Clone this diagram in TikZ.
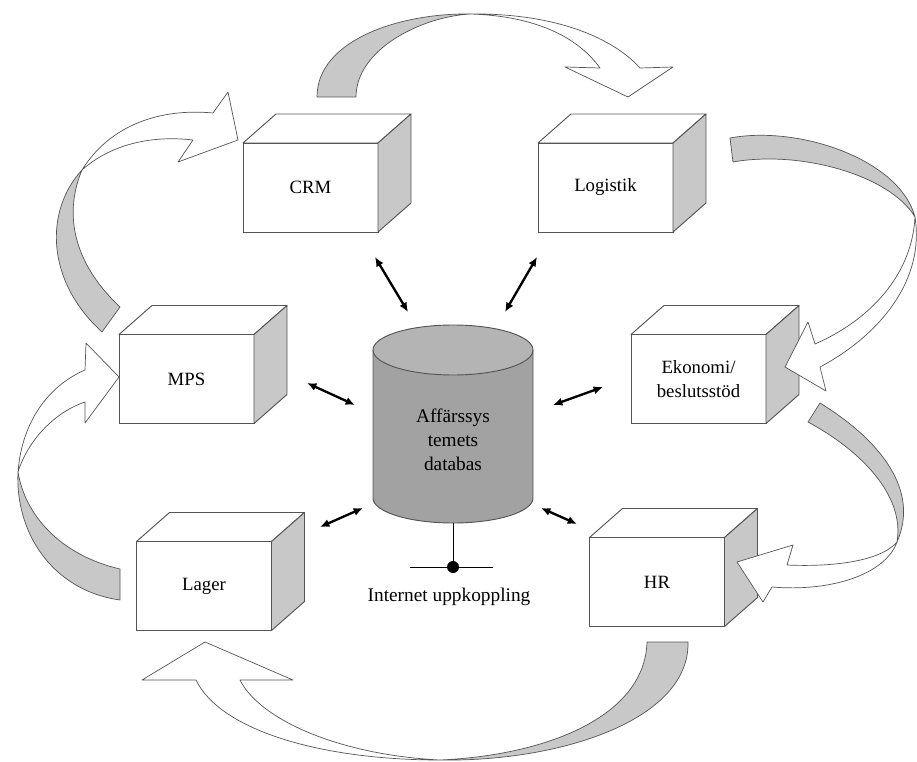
\documentclass[tikz,border=0pt]{standalone}
\usepackage{fontspec}
\setmainfont{Liberation Serif}
\usetikzlibrary{arrows.meta}

\definecolor{sidegray}{RGB}{200,200,200}
\definecolor{dbbody}{RGB}{162,162,162}
\definecolor{dbtop}{RGB}{180,180,180}
\definecolor{edgegray}{RGB}{85,85,85}

\begin{document}
\begin{tikzpicture}[
        x=0.03cm, y=-0.03cm,
        cube/.style={draw=edgegray, line width=0.8pt, fill=white, minimum width=4.05cm, minimum height=2.67cm,
            inner sep=0pt, outer sep=0pt, align=center, font=\fontsize{16}{21}\selectfont},
        face/.style={draw=edgegray, line width=0.8pt, line join=round},
        link/.style={{Latex[length=8pt,width=7pt]}-{Latex[length=8pt,width=7pt]}, line width=2pt},
        band/.style={draw=edgegray, line width=0.6pt, line join=round},
        label/.style={font=\fontsize{16.5}{20.5}\selectfont, align=center}
      ]

      \fill[white] (0,0) rectangle (917,762);
      \useasboundingbox (0,0) rectangle (917,762);

      % modules
      \node[cube] (crm) at (310.5,187.5) {CRM};
      \node[cube] (logistik) at (605.5,187.5) {Logistik};
      \node[cube] (mps) at (186.5,379) {MPS};
      \node[cube] (ekonomi) at (698.5,379) {Ekonomi/\\beslutsstöd};
      \node[cube] (lager) at (204,586) {Lager};
      \node[cube] (hr) at (657,582) {HR};

      \foreach \b in {crm,logistik,mps,ekonomi,lager,hr} {
        \draw[face, fill=white] (\b.north west) -- ++(33,-29) -- ([shift={(33,-29)}]\b.north east) -- (\b.north east) -- cycle;
        \draw[face, fill=sidegray] (\b.north east) -- ++(33,-29) -- ([shift={(33,-29)}]\b.south east) -- (\b.south east) -- cycle;
      }

      % database
      \fill[dbbody] (373,350) -- (373,498) arc[start angle=180, end angle=360, x radius=2.4cm, y radius=0.75cm] -- (533,350) -- cycle;
      \draw[face] (373,350) -- (373,498) arc[start angle=180, end angle=360, x radius=2.4cm, y radius=0.75cm] -- (533,350);
      \draw[face, fill=dbtop] (453,350) ellipse[x radius=2.4cm, y radius=0.75cm];
      \node[minimum width=4.8cm, minimum height=5.94cm, inner sep=0pt, outer sep=0pt] (db) at (453,424) {};
      \node[label] (dbtext) at (453,440) {Affärssys\\temets\\databas};

      % internet connection
      \coordinate (hub) at (453,567);
      \draw[line width=0.8pt] (db.south) -- (hub);
      \draw[line width=0.8pt] ([xshift=-1.29cm]hub) -- ([xshift=1.2cm]hub);
      \fill (hub) circle[radius=0.18cm];
      \node[label] (net) at (449,597) {Internet uppkoppling};

      % links to the database
      \coordinate (crm-end) at (375,257);      \coordinate (db-crm) at (408,312);
      \coordinate (logistik-end) at (537,257); \coordinate (db-logistik) at (505,312);
      \coordinate (mps-end) at (307,383);      \coordinate (db-mps) at (355,405);
      \coordinate (ekonomi-end) at (603,387);  \coordinate (db-ekonomi) at (553,405);
      \coordinate (lager-end) at (320,527);    \coordinate (db-lager) at (363,508);
      \coordinate (hr-end) at (577,524);       \coordinate (db-hr) at (541,508);
      \foreach \b in {crm,logistik,mps,ekonomi,lager,hr}
        \draw[link] (\b-end) -- (db-\b);

      % flow arrows, CRM -> Logistik
      \draw[band, fill=sidegray] (317,97) .. controls (317,40) and (400,13) .. (470,14)
        .. controls (420,17) and (356,50) .. (356,97) -- cycle;
      \draw[band, fill=white] (470,14) .. controls (550,13) and (610,35) .. (640,68) -- (673,67) -- (628,97)
        -- (565,67) -- (600,68) .. controls (580,40) and (540,16) .. (470,14) -- cycle;

      % Logistik -> Ekonomi
      \draw[band, fill=sidegray] (730,138) .. controls (800,125) and (900,160) .. (915,217)
        .. controls (890,175) and (800,150) .. (733,162) -- cycle;
      \draw[band, fill=white] (915,217) .. controls (925,280) and (880,335) .. (820,367) -- (826,391) -- (785,367)
        -- (808,322) -- (815,344) .. controls (870,320) and (912,275) .. (915,217) -- cycle;

      % Ekonomi -> HR
      \draw[band, fill=sidegray] (820,403) .. controls (880,440) and (920,490) .. (897,542)
        .. controls (905,495) and (860,450) .. (808,422) -- cycle;
      \draw[band, fill=white] (897,542) .. controls (885,575) and (830,592) .. (772,587) -- (763,602) -- (737,562)
        -- (793,545) -- (787,565) .. controls (830,567) and (880,562) .. (897,542) -- cycle;

      % HR -> Lager
      \draw[band, fill=sidegray] (688,642) .. controls (690,720) and (560,762) .. (440,760)
        .. controls (550,755) and (645,715) .. (647,642) -- cycle;
      \draw[band, fill=white] (440,760) .. controls (320,760) and (220,730) .. (196,680) -- (142,680) -- (205,642)
        -- (293,680) -- (240,680) .. controls (260,720) and (340,755) .. (440,760) -- cycle;

      % Lager -> MPS
      \draw[band, fill=sidegray] (120,600) .. controls (50,590) and (15,530) .. (18,472)
        .. controls (25,515) and (60,555) .. (120,569) -- cycle;
      \draw[band, fill=white] (18,472) .. controls (22,420) and (50,385) .. (85,370) -- (86,343) -- (119,377)
        -- (85,423) -- (85,402) .. controls (55,412) and (28,440) .. (18,472) -- cycle;

      % MPS -> CRM
      \draw[band, fill=sidegray] (102,332) .. controls (45,280) and (45,210) .. (82,170)
        .. controls (65,210) and (70,260) .. (120,307) -- cycle;
      \draw[band, fill=white] (82,170) .. controls (110,125) and (160,108) .. (213,113) -- (228,92) -- (238,140)
        -- (178,162) -- (193,140) .. controls (150,135) and (110,145) .. (82,170) -- cycle;
    \end{tikzpicture}
\end{document}
